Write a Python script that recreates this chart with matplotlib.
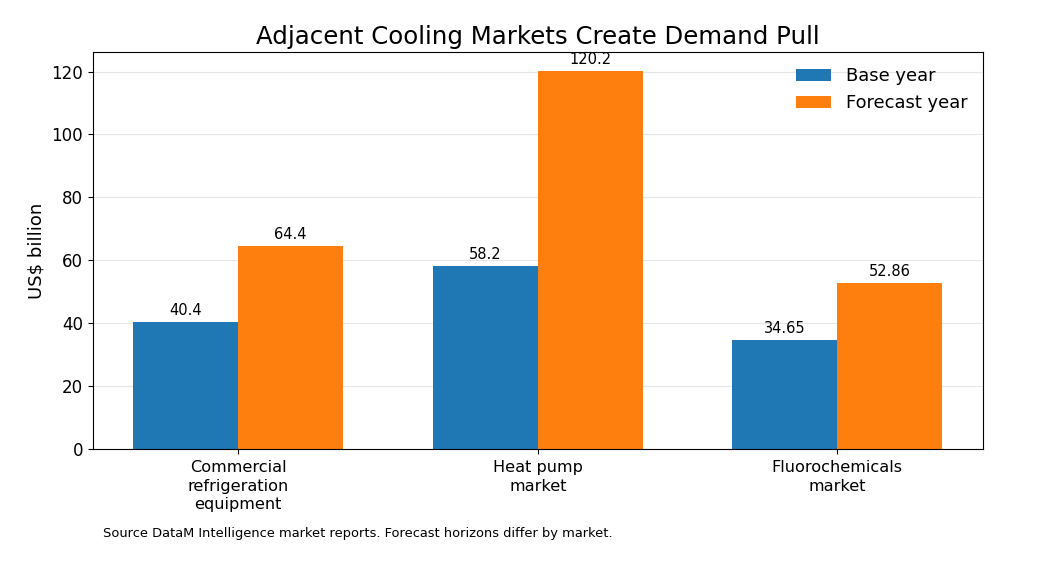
import matplotlib
matplotlib.use('Agg')
import matplotlib.pyplot as plt
import numpy as np

# chart data
markets = ['Commercial\nrefrigeration\nequipment', 'Heat pump\nmarket', 'Fluorochemicals\nmarket']
base_year = [40.4, 58.2, 34.65]
forecast_year = [64.4, 120.2, 52.86]
base_labels = ['40.4', '58.2', '34.65']
forecast_labels = ['64.4', '120.2', '52.86']

fig = plt.figure(figsize=(10.6, 5.85), dpi=100)
ax = fig.add_axes([0.0877, 0.2325, 0.8393, 0.6785])

x = np.arange(len(markets))
width = 0.35

b1 = ax.bar(x - width / 2, base_year, width, color='#1f77b4', label='Base year', zorder=2)
b2 = ax.bar(x + width / 2, forecast_year, width, color='#ff7f0e', label='Forecast year', zorder=2)

# value labels above the bars
ax.bar_label(b1, labels=base_labels, padding=3, fontsize=10.5)
ax.bar_label(b2, labels=forecast_labels, padding=3, fontsize=10.5)

ax.set_xticks(x)
ax.set_xticklabels(markets, fontsize=11.6, linespacing=1.3)
ax.tick_params(axis='x', pad=4.5)
ax.tick_params(axis='y', labelsize=12)
ax.set_ylabel('US$ billion', fontsize=13)
ax.set_title('Adjacent Cooling Markets Create Demand Pull', fontsize=17.6)

ax.grid(axis='y', color='#e6e6e6', linewidth=0.8, zorder=0)
ax.set_axisbelow(True)

ax.legend(loc='upper right', frameon=False, fontsize=12.9, borderaxespad=0.45)

fig.text(0.097, 0.082, 'Source DataM Intelligence market reports. Forecast horizons differ by market.',
         fontsize=9.4)

fig.savefig('out.png', dpi=100)
